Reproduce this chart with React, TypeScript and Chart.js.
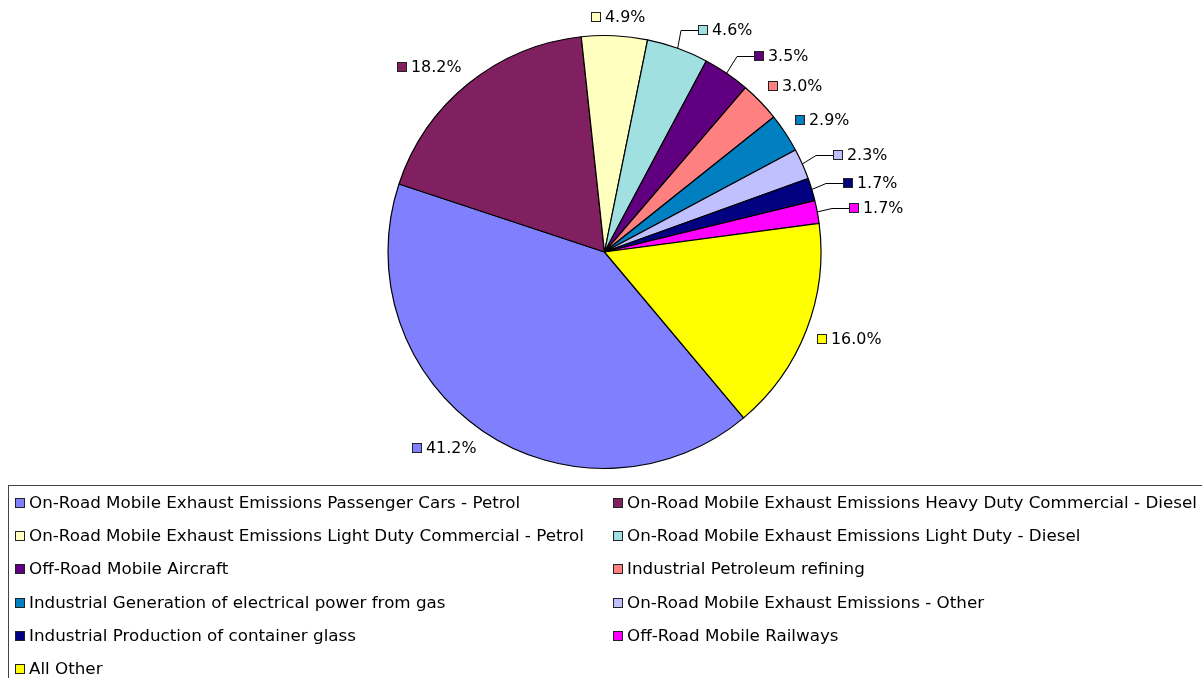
import { useEffect, useRef } from "react";
import { Chart, registerables } from "chart.js";

Chart.register(...registerables);

const categories = [
  "On-Road Mobile Exhaust Emissions Passenger Cars - Petrol",
  "On-Road Mobile Exhaust Emissions Heavy Duty Commercial - Diesel",
  "On-Road Mobile Exhaust Emissions Light Duty Commercial - Petrol",
  "On-Road Mobile Exhaust Emissions Light Duty - Diesel",
  "Off-Road Mobile Aircraft",
  "Industrial Petroleum refining",
  "Industrial Generation of electrical power from gas",
  "On-Road Mobile Exhaust Emissions - Other",
  "Industrial Production of container glass",
  "Off-Road Mobile Railways",
  "All Other",
];

const shares = [41.2, 18.2, 4.9, 4.6, 3.5, 3.0, 2.9, 2.3, 1.7, 1.7, 16.0];

const colors = [
  "#8080FF",
  "#802060",
  "#FFFFC0",
  "#A0E0E0",
  "#600080",
  "#FF8080",
  "#0080C0",
  "#C0C0FF",
  "#000080",
  "#FF00FF",
  "#FFFF00",
];

const leaderLines = [false, false, false, true, true, false, false, true, true, true, false];

const FONT = '15px "DejaVu Sans", Verdana, sans-serif';
const TEXT_COLOR = "#000";
const LEGEND_STRETCH = 1.115;
const LABEL_STRETCH = 1.06;

const clamp = (v: number) => Math.max(-1, Math.min(1, v));

function stretchedText(ctx: CanvasRenderingContext2D, text: string, x: number, y: number, s: number) {
  ctx.save();
  ctx.translate(x, y);
  ctx.scale(s, 1);
  ctx.fillText(text, 0, 0);
  ctx.restore();
}

const pieLabelPlugin = {
  id: "pieLabels",
  afterDatasetsDraw(chart: any) {
    const ctx = chart.ctx as CanvasRenderingContext2D;
    const meta = chart.getDatasetMeta(0);
    const data = chart.data.datasets[0].data as number[];
    const total = data.reduce((s, v) => s + v, 0);
    ctx.save();
    ctx.font = FONT;
    ctx.textBaseline = "middle";
    ctx.textAlign = "left";
    meta.data.forEach((arc: any, i: number) => {
      const { x, y, startAngle, endAngle, outerRadius } = arc.getProps(
        ["x", "y", "startAngle", "endAngle", "outerRadius"],
        true
      );
      const a = (startAngle + endAngle) / 2;
      const ca = Math.cos(a);
      const sa = Math.sin(a);
      const text = ((data[i] / total) * 100).toFixed(1) + "%";
      const tw = ctx.measureText(text).width * LABEL_STRETCH;
      const w = 14 + tw;
      const h = 16;
      const D = outerRadius + 11;
      const px = x + D * ca;
      const py = y + D * sa;
      let cx = px + clamp(ca * 2.5) * (w / 2);
      const cy = Math.round(py + clamp(sa * 1.5) * (h / 2));
      if (leaderLines[i]) cx += (ca >= 0 ? 1 : -1) * 21;
      const left = Math.round(cx - w / 2);

      if (leaderLines[i]) {
        const ex = x + outerRadius * ca;
        const ey = y + outerRadius * sa;
        ctx.strokeStyle = "#000";
        ctx.lineWidth = 1;
        ctx.beginPath();
        ctx.moveTo(ex, ey);
        ctx.lineTo(left - 17, cy + 0.5);
        ctx.lineTo(left, cy + 0.5);
        ctx.stroke();
      }

      ctx.fillStyle = colors[i];
      ctx.fillRect(left, cy - 5, 10, 10);
      ctx.strokeStyle = "#222";
      ctx.lineWidth = 1;
      ctx.strokeRect(left + 0.5, cy - 4.5, 9, 9);
      ctx.fillStyle = TEXT_COLOR;
      stretchedText(ctx, text, left + 14, cy + 1, LABEL_STRETCH);
    });
    ctx.restore();
  },
};

const boxLegendPlugin = {
  id: "boxLegend",
  afterDraw(chart: any) {
    const ctx = chart.ctx as CanvasRenderingContext2D;
    const top = 477;
    ctx.save();
    ctx.strokeStyle = "#444";
    ctx.lineWidth = 1;
    ctx.strokeRect(0.5, top + 0.5, 1400, 400);
    ctx.font = FONT;
    ctx.textBaseline = "middle";
    ctx.textAlign = "left";
    const colX = [7, 605];
    categories.forEach((label, i) => {
      const col = i % 2;
      const row = Math.floor(i / 2);
      const cy = Math.round(top + 18 + row * 33.2);
      const mx = colX[col];
      ctx.fillStyle = colors[i];
      ctx.fillRect(mx, cy - 5, 10, 10);
      ctx.strokeStyle = "#222";
      ctx.strokeRect(mx + 0.5, cy - 4.5, 9, 9);
      ctx.fillStyle = TEXT_COLOR;
      stretchedText(ctx, label, mx + 14, cy + 1, LEGEND_STRETCH);
    });
    ctx.restore();
  },
};

export default function App() {
  const ref = useRef<HTMLCanvasElement | null>(null);
  useEffect(() => {
    if (!ref.current) return;
    const chart = new Chart(ref.current, {
      type: "pie",
      data: {
        labels: categories,
        datasets: [
          {
            data: shares,
            backgroundColor: colors,
            borderColor: "#000",
            borderWidth: 1.2,
            rotation: 140,
            radius: 216.5,
          } as any,
        ],
      },
      options: {
        responsive: false,
        animation: false,
        events: [],
        layout: { padding: { left: 0, right: 1, top: 0, bottom: 182 } },
        plugins: {
          legend: { display: false },
          tooltip: { enabled: false },
        },
      } as any,
      plugins: [pieLabelPlugin, boxLegendPlugin],
    });
    return () => chart.destroy();
  }, []);
  return (
    <div style={{ position: "fixed", left: 8, top: 8 }}>
      <canvas ref={ref} width={1194} height={670} style={{ display: "block" }} />
    </div>
  );
}
